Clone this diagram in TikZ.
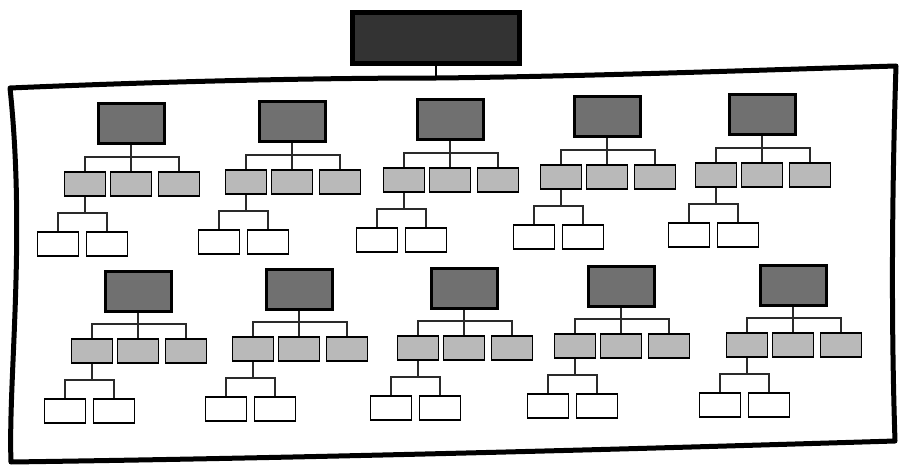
\documentclass[tikz,border=0pt]{standalone}
\usetikzlibrary{calc}

\definecolor{headgray}{HTML}{333333}
\definecolor{unitgray}{HTML}{707070}
\definecolor{midgray}{HTML}{B9B9B9}
\definecolor{inkgray}{HTML}{2A2A2A}

\begin{document}
\begin{tikzpicture}[x=1pt,y=-1pt,
    headbox/.style={draw=black,fill=headgray,line width=5pt,minimum width=167pt,minimum height=51pt,inner sep=0pt},
    unitbox/.style={draw=black,fill=unitgray,line width=3pt,minimum width=66pt,minimum height=40pt,inner sep=0pt},
    midbox/.style={draw=black,fill=midgray,line width=1.9pt,minimum width=41pt,minimum height=24pt,inner sep=0pt},
    leafbox/.style={draw=black,fill=white,line width=1.7pt,minimum width=41pt,minimum height=24pt,inner sep=0pt},
    link/.style={draw=inkgray,line width=1.3pt},
    frame/.style={line width=5pt,line join=round,line cap=round}]

\useasboundingbox (0,0) rectangle (900,468);

% Head box
\node[headbox] (head) at (436,38) {};
\coordinate (frametop) at (436,79);
\draw[link,line width=2.5pt,draw=black] (head) -- (frametop);

% Frame
\draw[frame]
    (10,88) .. controls (150,82) and (300,78) .. (440,78)
    .. controls (600,76) and (760,70) .. (896,66)
    .. controls (892,190) and (891,320) .. (895,441)
    .. controls (600,450) and (300,458) .. (11,462)
    .. controls (8,380) and (26,240) .. (10,88) -- cycle;

% Units
\foreach \n/\x/\y in {a/131/124, b/292/122, c/450/120, d/607/117, e/762/115,
                      f/138/291, g/299/289, h/464/288, i/621/286, j/793/285}{
    \node[unitbox] (\n top) at (\x,\y) {};
    \node[midbox] (\n m1) at (\x-46,\y+60) {};
    \node[midbox] (\n m2) at (\x,\y+60) {};
    \node[midbox] (\n m3) at (\x+48,\y+60) {};
    \node[leafbox] (\n w1) at (\x-73,\y+120) {};
    \node[leafbox] (\n w2) at (\x-24,\y+120) {};
    \coordinate (\n jt) at (\x,\y+33);
    \coordinate (\n jb) at (\x-46,\y+89);
    % connectors
    \draw[link] (\n top) -- (\n m2);
    \draw[link] (\n m1.north) |- (\n jt) -| (\n m3.north);
    \draw[link] (\n m1) -- (\n jb);
    \draw[link] (\n w1.north) |- (\n jb) -| (\n w2.north);
}

\end{tikzpicture}
\end{document}
